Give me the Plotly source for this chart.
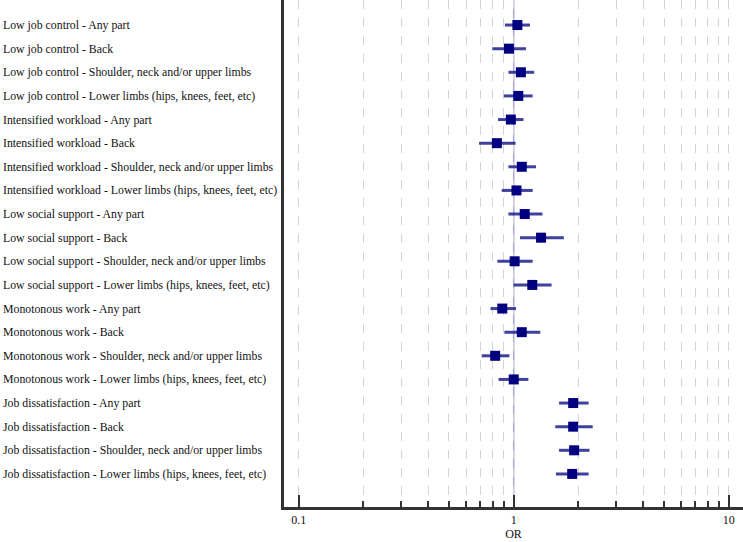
import plotly.graph_objects as go

exposures = ["Low job control", "Intensified workload", "Low social support",
             "Monotonous work", "Job dissatisfaction"]
sites = ["Any part", "Back", "Shoulder, neck and/or upper limbs",
         "Lower limbs (hips, knees, feet, etc)"]
labels = [f"{e} - {s}" for e in exposures for s in sites]

odds_ratio = [1.04, 0.95, 1.08, 1.05, 0.97, 0.835, 1.09, 1.03,
              1.125, 1.34, 1.01, 1.22, 0.885, 1.09, 0.82, 1.00,
              1.89, 1.89, 1.91, 1.87]
ci_low = [0.91, 0.795, 0.945, 0.90, 0.845, 0.69, 0.945, 0.88,
          0.945, 1.07, 0.84, 1.00, 0.78, 0.905, 0.71, 0.85,
          1.625, 1.56, 1.625, 1.57]
ci_high = [1.19, 1.14, 1.245, 1.225, 1.11, 1.02, 1.27, 1.225,
           1.36, 1.71, 1.225, 1.50, 1.025, 1.33, 0.955, 1.17,
           2.23, 2.33, 2.25, 2.23]

major_ticks = [0.1, 1, 10]
tick_text = ["0.1", "1", "10"]
minor_ticks = [0.2, 0.3, 0.4, 0.5, 0.6, 0.7, 0.8, 0.9,
               2, 3, 4, 5, 6, 7, 8, 9]

FONT = "Liberation Serif"
LABEL_SIZE = 11.8
W, H = 743, 542
ML, MB = 284, 35
plot_w = W - ML

fig = go.Figure()
fig.add_trace(go.Scatter(
    x=odds_ratio, y=labels, mode="markers",
    marker=dict(symbol="square", size=10, color="#000080", line=dict(width=0)),
    error_x=dict(type="data", symmetric=False,
                 array=[h - o for h, o in zip(ci_high, odds_ratio)],
                 arrayminus=[o - l for o, l in zip(odds_ratio, ci_low)],
                 thickness=3, width=0, color="rgba(30,30,140,0.85)"),
    showlegend=False, hoverinfo="skip",
))

fig.add_shape(type="line", xref="x", yref="paper", x0=1, x1=1, y0=0, y1=1,
              line=dict(color="#a8a8d8", width=1.5), layer="below")

for lab in labels:
    fig.add_annotation(text=lab, xref="paper", yref="y", x=-(ML - 1) / plot_w,
                       y=lab, xanchor="left", yanchor="middle", showarrow=False,
                       font=dict(family=FONT, size=LABEL_SIZE, color="#111111"))

fig.update_layout(
    width=W, height=H,
    margin=dict(l=ML, r=0, t=0, b=MB, pad=0),
    paper_bgcolor="white", plot_bgcolor="white",
    font=dict(family=FONT, size=12, color="#111111"),
    xaxis=dict(
        type="log", range=[-1.068, 1.066],
        tickvals=major_ticks, ticktext=tick_text,
        ticks="inside", ticklen=12, tickwidth=2, tickcolor="#333333",
        showgrid=True, gridcolor="#d4d4d4", griddash="dash", gridwidth=1,
        showline=True, linecolor="#333333", linewidth=3,
        zeroline=False,
        minor=dict(tickvals=minor_ticks, ticks="inside", ticklen=6,
                   tickwidth=1.5, tickcolor="#333333",
                   showgrid=True, gridcolor="#d4d4d4", griddash="dash",
                   gridwidth=1),
        title=dict(text="OR", standoff=4, font=dict(family=FONT, size=12)),
        tickfont=dict(family=FONT, size=12, color="#111111"),
    ),
    yaxis=dict(
        type="category", categoryorder="array", categoryarray=labels,
        range=[20.4, -1.06],
        showticklabels=False, ticks="", showgrid=False, zeroline=False,
        showline=True, linecolor="#333333", linewidth=3,
    ),
)

fig.write_html("out.html", config={"displayModeBar": False},
               post_script="document.body.style.margin='0';"
                           "document.body.style.padding='0';")
